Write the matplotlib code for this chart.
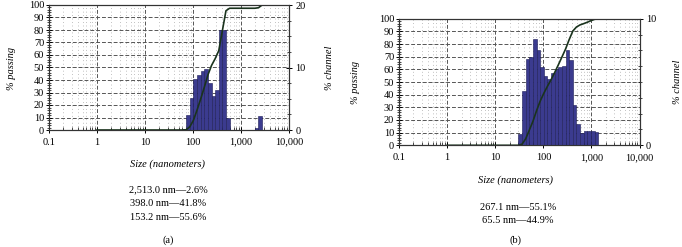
import matplotlib
matplotlib.use("Agg")
import matplotlib.pyplot as plt
from matplotlib.ticker import FixedLocator, MultipleLocator, LogLocator, NullFormatter
import numpy as np

plt.rcParams['font.family'] = ['Liberation Serif', 'DejaVu Serif']

# ---- data ----
# (a) channel edges (nm) and % in each channel
a_edges = [60.8, 72.3, 85.9, 102.2, 121.5, 144.5, 171.9, 204.4, 243, 289, 344, 409, 486, 578]
a_channel = [0.2, 2.4, 5.2, 8.2, 8.8, 9.4, 9.8, 7.6, 5.4, 6.4, 16.0, 16.0, 2.0]
a_edges2 = [1944, 2312, 2750]
a_channel2 = [0.4, 2.2]
a_curve_x = [1, 60.8, 72.3, 85.9, 102.2, 121.5, 144.5, 171.9, 204.4, 243, 289, 344, 409, 486, 578,
             1944, 2312, 2750, 10000]
a_curve_y = [0, 0, 0.2, 2.6, 7.8, 16.0, 24.8, 34.2, 44.0, 51.6, 57.0, 63.4, 79.4, 95.4, 97.4,
             97.4, 97.8, 100, 100]
a_notes = ["2,513.0 nm\u20142.6%", "398.0 nm\u201441.8%", "153.2 nm\u201455.6%"]

# (b)
b_edges = [30.4, 36.1, 43.0, 51.1, 60.8, 72.3, 85.9, 102.2, 121.5, 144.5, 171.9, 204.4, 243,
           289, 344, 409, 486, 578, 688, 818, 972, 1156, 1375]
b_channel = [0.9, 4.3, 6.8, 7.0, 8.4, 7.5, 6.2, 5.5, 5.2, 5.7, 6.0, 6.2, 6.3, 7.5, 6.7,
             3.2, 1.7, 1.0, 1.1, 1.15, 1.15, 1.05]
b_curve_x = [1, 30.4, 36.1, 43.0, 51.1, 60.8, 72.3, 85.9, 102.2, 121.5, 144.5, 171.9, 204.4, 243,
             289, 344, 409, 486, 578, 688, 818, 972, 1156, 1375, 10000]
b_curve_y = [0, 0, 0.9, 5.2, 12.0, 19.0, 27.4, 34.9, 41.1, 46.6, 51.8, 57.5, 63.5, 69.7, 76.0,
             83.5, 90.2, 93.4, 95.1, 96.1, 97.2, 98.4, 99.5, 100, 100]
b_notes = ["267.1 nm\u201455.1%", "65.5 nm\u201444.9%"]

xticks = [0.1, 1, 10, 100, 1000, 10000]
xticklabels = ["0.1", "1", "10", "100", "1,000", "10,000"]

bar_color = "#3b3b8f"
bar_edge = "#1c1c55"
line_color = "#1a331d"
fs = 7.5

fig = plt.figure(figsize=(6.82, 2.47), dpi=100)


def panel(rect, edges_list, chans_list, cx, cy, rmax, rminor):
    ax = fig.add_axes(rect)
    ax.set_xscale('log')
    ax.set_xlim(0.1, 10000)
    ax.set_ylim(0, 100)
    ax.xaxis.set_major_locator(FixedLocator(xticks))
    ax.set_xticklabels(xticklabels, fontsize=fs)
    ax.xaxis.set_minor_locator(LogLocator(base=10, subs=np.arange(2, 10)))
    ax.xaxis.set_minor_formatter(NullFormatter())
    ax.yaxis.set_major_locator(MultipleLocator(10))
    ax.yaxis.set_minor_locator(MultipleLocator(2))
    ax.tick_params(axis='y', which='major', direction='inout', length=5, width=0.7, labelsize=fs, pad=1)
    ax.tick_params(axis='y', which='minor', direction='inout', length=2.5, width=0.5)
    ax.tick_params(axis='x', which='major', direction='inout', length=5, width=0.7, pad=3)
    ax.tick_params(axis='x', which='minor', direction='in', length=2.5, width=0.5)
    ax.grid(which='major', axis='both', ls=(0, (4, 2)), lw=0.7, color='#555555')
    ax.grid(which='minor', axis='x', ls=(0, (1, 4)), lw=0.5, color='#888888')
    ax.set_axisbelow(True)
    for s in ax.spines.values():
        s.set_linewidth(0.8)
        s.set_color('#333333')

    ax2 = ax.twinx()
    ax2.set_ylim(0, rmax)
    ax2.yaxis.set_major_locator(MultipleLocator(10))
    ax2.yaxis.set_minor_locator(MultipleLocator(rminor))
    ax2.tick_params(axis='y', which='major', direction='inout', length=5, width=0.7, labelsize=fs, pad=2)
    ax2.tick_params(axis='y', which='minor', direction='inout', length=2.5, width=0.5)
    for edges, chans in zip(edges_list, chans_list):
        e = np.array(edges)
        ax2.bar(e[:-1], chans, width=np.diff(e), align='edge', color=bar_color,
                edgecolor=bar_edge, linewidth=0.4)
    ax2.plot(cx, cy, color=line_color, lw=1.2, transform=ax.transData)
    for s in ax2.spines.values():
        s.set_linewidth(0.8)
        s.set_color('#333333')
    return ax, ax2


# panel (a)
axa, axa2 = panel([49 / 682, 1 - 130 / 247, 240 / 682, 125 / 247],
                  [a_edges, a_edges2], [a_channel, a_channel2], a_curve_x, a_curve_y, 20, 2.5)
# panel (b)
axb, axb2 = panel([399 / 682, 1 - 145.3 / 247, 240.6 / 682, 126.6 / 247],
                  [b_edges], [b_channel], b_curve_x, b_curve_y, 10, 1.25)

# axis titles
fig.text(12 / 682, 1 - 68 / 247, "% passing", rotation=90, style='italic', fontsize=fs,
         ha='center', va='center')
fig.text(330 / 682, 1 - 68 / 247, "% channel", rotation=90, style='italic', fontsize=fs,
         ha='center', va='center')
fig.text(356 / 682, 1 - 82 / 247, "% passing", rotation=90, style='italic', fontsize=fs,
         ha='center', va='center')
fig.text(677 / 682, 1 - 82 / 247, "% channel", rotation=90, style='italic', fontsize=fs,
         ha='center', va='center')

fig.text(168 / 682, 1 - 164 / 247, "Size (nanometers)", style='italic', fontsize=fs,
         ha='center', va='center')
fig.text(515 / 682, 1 - 180 / 247, "Size (nanometers)", style='italic', fontsize=fs,
         ha='center', va='center')

for i, t in enumerate(a_notes):
    fig.text(168 / 682, 1 - (190 + 13.5 * i) / 247, t, fontsize=fs, ha='center', va='center')
for i, t in enumerate(b_notes):
    fig.text(518 / 682, 1 - (207 + 13.5 * i) / 247, t, fontsize=fs, ha='center', va='center')

fig.text(168 / 682, 1 - 240 / 247, "(a)", fontsize=fs, ha='center', va='center')
fig.text(516 / 682, 1 - 240 / 247, "(b)", fontsize=fs, ha='center', va='center')

fig.savefig("out.png", dpi=100)
